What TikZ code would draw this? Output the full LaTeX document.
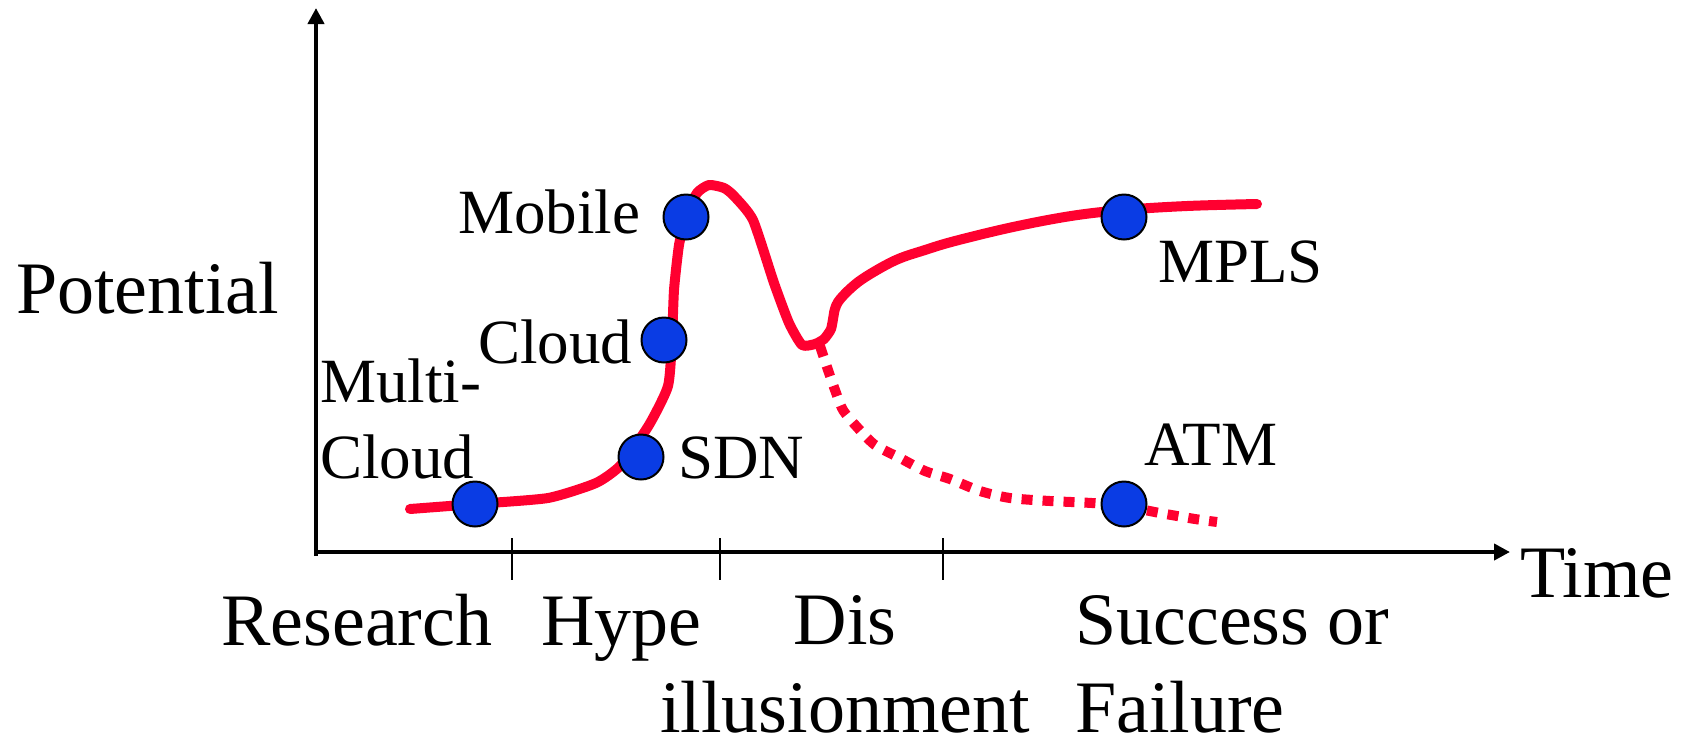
\documentclass[tikz,border=0pt]{standalone}
\usepackage{fontspec}
\setmainfont{Liberation Serif}
\usetikzlibrary{arrows.meta}

\definecolor{curvered}{RGB}{255,0,48}
\definecolor{dotblue}{RGB}{10,60,228}

\begin{document}
\begin{tikzpicture}[x=1pt,y=-1pt,
  axis/.style={line width=4pt,-{Triangle[length=16pt,width=16pt]}},
  tickmark/.style={line width=2pt},
  curve/.style={curvered,line width=10pt,line cap=round,line join=round},
  failcurve/.style={curvered,line width=10pt,dash pattern=on 11pt off 10pt},
  dot/.style={circle,fill=dotblue,draw=black,line width=2pt,minimum size=45pt,inner sep=0pt},
  biglabel/.style={inner sep=0pt,font=\fontsize{74}{88}\selectfont},
  dotlabel/.style={inner sep=0pt,font=\fontsize{63}{76}\selectfont}]

% canvas
\fill[white] (0,0) rectangle (1692,740);
\useasboundingbox (0,0) rectangle (1692,740);

% axes
\coordinate (origin) at (316,556);
\coordinate (ytip) at (316,8);
\coordinate (xstart) at (318,552);
\coordinate (xtip) at (1510,552);
\draw[axis] (origin) -- (ytip);
\draw[axis] (xstart) -- (xtip);

% phase separators
\foreach \x/\n in {512/ta,720/tb,943/tc}{
  \coordinate (\n1) at (\x,538);
  \coordinate (\n2) at (\x,580);
  \draw[tickmark] (\n1) -- (\n2);
}

% axis titles and phase names (multi-line nodes sit on their last baseline)
\node[biglabel,anchor=base west] (potential) at (16,313) {Potential};
\node[biglabel,anchor=base west] (time) at (1520,597) {Time};
\node[biglabel,anchor=base west] (research) at (221,645) {Research};
\node[biglabel,anchor=base west] (hype) at (541,645) {Hype};
\node[biglabel,anchor=base,align=center,text depth=0pt] (disill) at (845,732) {Dis\\illusionment};
\node[biglabel,anchor=base west,align=left,text depth=0pt] (outcome) at (1075,732) {Success or\\Failure};

% failure branch
\draw[failcurve] plot[smooth,tension=0.45] coordinates {
  (820,346) (828,370) (835,390) (843,410) (857,427) (875,445) (900,458)
  (925,471) (950,479) (980,491) (1010,498) (1050,501) (1092,503)
  (1123,506) (1160,513) (1195,519) (1217,522)};

% hype cycle
\draw[curve] plot[smooth,tension=0.35] coordinates {
  (410,509) (475,504) (548,498) (596,483) (621,465) (649,425) (668,386)
  (672,340) (674,290) (679,245) (686,217) (697,193) (709,185) (724,188)
  (734,196) (753,220) (774,283) (789,323) (802,345) (815,344) (824,339)
  (831,329) (834,313)};
\draw[curve] plot[smooth,tension=0.6] coordinates {
  (834,313) (838,302) (851,288) (867,276) (896,260) (925,250) (955,241)
  (1013,227) (1071,216) (1123,210) (1187,206) (1257,204)};

% technologies
\node[dot] (multicloud) at (475,504) {};
\node[dot] (sdn) at (641,457) {};
\node[dot] (cloud) at (664,340) {};
\node[dot] (mobile) at (686,217) {};
\node[dot] (mpls) at (1124,217) {};
\node[dot] (atm) at (1124,504) {};

\node[dotlabel,anchor=base west] (mobilelbl) at (458,233) {Mobile};
\node[dotlabel,anchor=base west] (cloudlbl) at (478,363) {Cloud};
\node[dotlabel,anchor=base west,align=left] (multicloudlbl) at (320,478) {Multi-\\Cloud};
\node[dotlabel,anchor=base west] (sdnlbl) at (678,478) {SDN};
\node[dotlabel,anchor=base west] (mplslbl) at (1158,282) {MPLS};
\node[dotlabel,anchor=base west] (atmlbl) at (1144,465) {ATM};
\end{tikzpicture}
\end{document}
